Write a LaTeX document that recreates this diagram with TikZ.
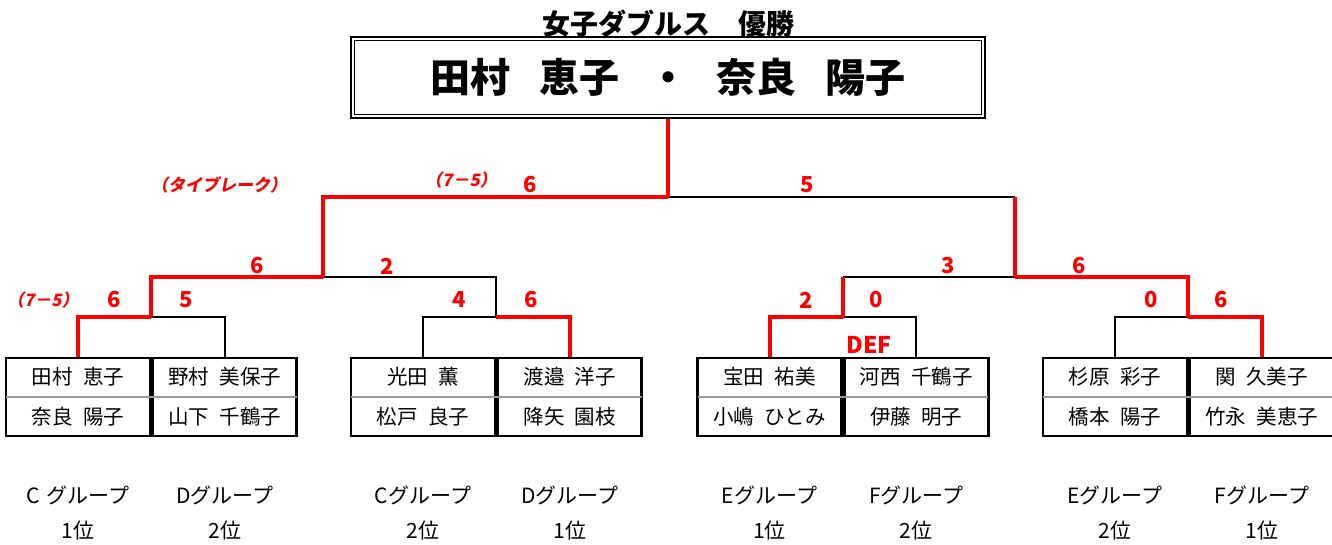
\documentclass[tikz,border=0pt]{standalone}
\usepackage{fontspec}
\setmainfont{Noto Sans CJK JP}
\newfontfamily\slfont{Noto Sans CJK JP}[FakeSlant=0.2]
\newcommand\namesize{\fontsize{20.5}{40}\selectfont\spaceskip 0.5em\relax}
\newcommand\champsize{\bfseries\fontsize{40}{40}\selectfont\spaceskip 0.72em\relax}
\newcommand\groupsize{\fontsize{21}{21}\selectfont\spaceskip 0.3em\relax}
\usepackage{tikz}
\usetikzlibrary{positioning}
\definecolor{winred}{RGB}{255,0,0}
\tikzstyle{pairbox} = [draw=black, line width=2.8pt, minimum width=144pt, minimum height=78pt, inner sep=0pt, align=center, font=\namesize]
\tikzstyle{champbox} = [draw=black, line width=2.5pt, minimum width=634pt, minimum height=81pt, inner sep=0pt, font=\champsize]
\tikzstyle{win} = [draw=winred, line width=4pt]
\tikzstyle{lose} = [draw=black, line width=2pt]
\tikzstyle{divider} = [draw=gray!80, line width=1.5pt, shorten >=1.4pt, shorten <=1.4pt]
\tikzstyle{score} = [text=winred, inner sep=0pt, font=\bfseries\fontsize{22}{22}\selectfont]
\tikzstyle{note} = [text=winred, inner sep=0pt, font=\slfont\bfseries\fontsize{17}{17}\selectfont]
\tikzstyle{group} = [inner sep=0pt, font=\groupsize]

\begin{document}
\begin{tikzpicture}[x=1pt, y=1pt, node distance = 0pt]
                            \useasboundingbox (0,0) rectangle (1332,545);
                            % title and winner
                            \node (title) [font=\bfseries\fontsize{28}{28}\selectfont] at (668,521) {女子ダブルス　優勝};
                            \node (champ) [champbox] at (668,467.5) {田村 恵子 ・ 奈良 陽子};
                            \draw [line width=1.2pt] ([shift={(4.5,4.5)}]champ.south west) rectangle ([shift={(-4.5,-4.5)}]champ.north east);
                            % pairs
                            \node (p1) [pairbox] at (78,148) {田村 恵子\\奈良 陽子};
                            \node (p2) [pairbox, right = of p1] {野村 美保子\\山下 千鶴子};
                            \node (p3) [pairbox] at (423,148) {光田 薫\\松戸 良子};
                            \node (p4) [pairbox, right = of p3] {渡邉 洋子\\降矢 園枝};
                            \node (p5) [pairbox] at (769.5,148) {宝田 祐美\\小嶋 ひとみ};
                            \node (p6) [pairbox, right = of p5] {河西 千鶴子\\伊藤 明子};
                            \node (p7) [pairbox] at (1115,148) {杉原 彩子\\橋本 陽子};
                            \node (p8) [pairbox, right = of p7] {関 久美子\\竹永 美恵子};
                            \draw [divider] (p1.west) -- (p2.east);
                            \draw [divider] (p3.west) -- (p4.east);
                            \draw [divider] (p5.west) -- (p6.east);
                            \draw [divider] (p7.west) -- (p8.east);
                            % groups
                            \node (g1) [group] at (p1 |- 0,50) {C グループ};
                            \node (g2) [group] at (p2 |- 0,50) {Dグループ};
                            \node (g3) [group] at (p3 |- 0,50) {Cグループ};
                            \node (g4) [group] at (p4 |- 0,50) {Dグループ};
                            \node (g5) [group] at (p5 |- 0,50) {Eグループ};
                            \node (g6) [group] at (p6 |- 0,50) {Fグループ};
                            \node (g7) [group] at (p7 |- 0,50) {Eグループ};
                            \node (g8) [group] at (p8 |- 0,50) {Fグループ};
                            \node (r1) [group] at (p1 |- 0,14) {1位};
                            \node (r2) [group] at (p2 |- 0,14) {2位};
                            \node (r3) [group] at (p3 |- 0,14) {2位};
                            \node (r4) [group] at (p4 |- 0,14) {1位};
                            \node (r5) [group] at (p5 |- 0,14) {1位};
                            \node (r6) [group] at (p6 |- 0,14) {2位};
                            \node (r7) [group] at (p7 |- 0,14) {2位};
                            \node (r8) [group] at (p8 |- 0,14) {1位};
                            % bracket joints
                            \coordinate (q1) at (p1.east |- 0,228);
                            \coordinate (q2) at (p3.east |- 0,228);
                            \coordinate (q3) at (p5.east |- 0,228);
                            \coordinate (q4) at (p7.east |- 0,228);
                            \coordinate (s1) at (322.5,268);
                            \coordinate (s2) at (1015,268);
                            \coordinate (f) at (champ.south |- 0,348);
                            % losers
                            \draw [lose] (p2.north) |- (q1);
                            \draw [lose] (p3.north) |- (q2);
                            \draw [lose] (q2) |- (s1);
                            \draw [lose] (p6.north) |- (q3);
                            \draw [lose] (q3 |- s2) -- (s2);
                            \draw [lose] (p7.north) |- (q4);
                            \draw [lose] (s2 |- f) -- (f);
                            % winners
                            \draw [win] (p1.north) |- (q1);
                            \draw [win] (q1) |- (s1);
                            \draw [win] (p4.north) |- (q2);
                            \draw [win] (s1) |- (f);
                            \draw [win] (p5.north) |- (q3);
                            \draw [win] (q3) -- (q3 |- s2);
                            \draw [win] (p8.north) |- (q4);
                            \draw [win] (q4) |- (s2);
                            \draw [win] (s2) -- (s2 |- f);
                            \draw [win] (f) -- (champ.south);
                            % scores
                            \node (n1) [note] at (219,360) {（タイブレーク）};
                            \node (n2) [note] at (461,365) {（7－5）};
                            \node (n3) [note] at (43,245) {（7－5）};
                            \node (c1) [score] at (530,360) {6};
                            \node (c2) [score] at (807,360) {5};
                            \node (c3) [score] at (257,279) {6};
                            \node (c4) [score] at (387,279) {2};
                            \node (c5) [score] at (948,279) {3};
                            \node (c6) [score] at (1079,279) {6};
                            \node (c7) [score] at (114,245) {6};
                            \node (c8) [score] at (186,245) {5};
                            \node (c9) [score] at (459,245) {4};
                            \node (c10) [score] at (531,245) {6};
                            \node (c11) [score] at (806,245) {2};
                            \node (c12) [score] at (876,245) {0};
                            \node (c13) [score] at (1151,245) {0};
                            \node (c14) [score] at (1221,245) {6};
                            \node (def) [score, font=\bfseries\fontsize{23}{23}\selectfont] at (869,200) {DEF};
                        \end{tikzpicture}
\end{document}
